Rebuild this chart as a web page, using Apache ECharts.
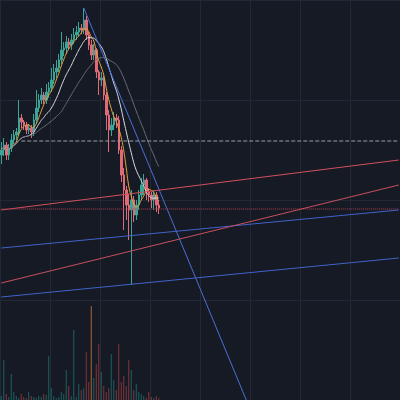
<!DOCTYPE html>
<html>
<head>
<meta charset="utf-8">
<script src="https://cdn.jsdelivr.net/npm/echarts@6/dist/echarts.min.js"></script>
<style>
  html, body { margin: 0; padding: 0; background: #161a25; }
  #chart { width: 400px; height: 400px; }
</style>
</head>
<body>
<div id="chart"></div>
<script>
// candle data (price units match the chart's vertical scale)
const closes = [250,255,245,252,260,265,268,282,278,275,270,272,268,280,292,300,305,300,308,312,320,328,332,340,350,352,358,355,360,365,368,372,370,380,365,355,345,350,328,320,322,305,285,270,275,282,280,250,225,210,195,190,200,185,195,205,215,220,208,205,200,205,195,192];
const opens  = [245,250,255,245,252,260,265,268,282,278,275,270,272,268,280,292,300,305,300,308,312,320,328,332,340,350,352,358,355,360,365,368,372,370,380,365,355,345,350,328,320,322,305,285,270,275,282,280,250,225,210,195,190,200,185,195,205,215,220,208,205,200,205,195];
const highs  = [258,262,258,256,266,270,272,300,286,280,278,276,275,286,310,306,312,308,316,318,332,336,340,346,368,358,364,362,366,372,374,378,376,392,384,368,360,356,352,330,328,324,308,290,282,288,286,284,254,232,214,206,210,204,200,210,222,226,222,212,208,210,208,200];
const lows   = [236,244,240,240,248,256,260,264,272,270,266,266,262,264,276,288,296,296,296,302,308,316,322,328,336,344,346,350,350,356,360,364,366,366,360,350,340,340,322,305,314,300,270,248,264,270,272,246,218,170,180,160,115,178,180,190,200,205,200,198,192,190,188,186];
const volumes = [4,40,6,3,26,8,4,2,6,3,2,8,4,3,2,4,3,6,5,44,12,4,2,3,8,6,30,14,4,70,3,16,10,12,48,18,94,22,36,56,28,14,8,12,46,20,10,56,18,24,14,40,30,10,16,8,6,4,2,8,3,2,4,2];

// trendlines: [startIndex, startValue, endIndex, endValue]
const trendLines = [
  { pts: [[33, 392], [98, 0]], color: '#4a6fd8', type: 'solid' },
  { pts: [[0, 190], [159, 240]], color: '#d0505c', type: 'solid' },
  { pts: [[0, 191], [159, 191]], color: '#b04050', type: 'dotted' },
  { pts: [[0, 152], [159, 190]], color: '#3f63c8', type: 'solid' },
  { pts: [[0, 117], [159, 215]], color: '#c8505c', type: 'solid' },
  { pts: [[0, 103], [159, 142]], color: '#3f63c8', type: 'solid' },
  { pts: [[8, 259], [159, 259]], color: '#9a9ea8', type: 'dashed' }
];

const categories = [];
for (let i = 0; i < 160; i++) categories.push(String(i));

function movingAverage(n) {
  return closes.map((_, i) => {
    const from = Math.max(0, i - n + 1);
    const slice = closes.slice(from, i + 1);
    return +(slice.reduce((a, b) => a + b, 0) / slice.length).toFixed(1);
  });
}

const candleData = closes.map((c, i) => [opens[i], c, lows[i], highs[i]]);
const volData = volumes.map((v, i) => ({
  value: v,
  itemStyle: { color: i === 36 ? 'rgba(230,140,60,0.7)' : (closes[i] >= opens[i] ? 'rgba(38,166,154,0.5)' : 'rgba(239,83,80,0.5)') }
}));

const chart = echarts.init(document.getElementById('chart'));
const series = [
  {
    type: 'candlestick',
    data: candleData,
    barWidth: 2,
    itemStyle: {
      color: '#3aa597', color0: '#e06a78',
      borderColor: '#3aa597', borderColor0: '#e06a78', borderWidth: 1
    }
  },
  { type: 'bar', yAxisIndex: 1, data: volData, barWidth: 1 },
  { type: 'line', data: movingAverage(5), symbol: 'none', smooth: true, lineStyle: { color: '#e8a33a', width: 1 } },
  { type: 'line', data: movingAverage(12), symbol: 'none', smooth: true, lineStyle: { color: '#d8dce6', width: 1 } },
  { type: 'line', data: movingAverage(25), symbol: 'none', smooth: true, lineStyle: { color: '#6a6e78', width: 1 } }
];
trendLines.forEach(t => series.push({
  type: 'line', data: t.pts, symbol: 'none', silent: true,
  lineStyle: { color: t.color, width: 1, type: t.type }
}));

chart.setOption({
  backgroundColor: '#161a25',
  animation: false,
  grid: { left: 0, right: 0, top: 0, bottom: 0 },
  xAxis: {
    type: 'category', data: categories, boundaryGap: true,
    axisLine: { show: false }, axisTick: { show: false }, axisLabel: { show: false },
    splitLine: { show: true, interval: 19, lineStyle: { color: '#232836', width: 1 } }
  },
  yAxis: [
    {
      type: 'value', min: 0, max: 400, interval: 100,
      axisLine: { show: false }, axisTick: { show: false }, axisLabel: { show: false },
      splitLine: { lineStyle: { color: '#232836', width: 1 } }
    },
    {
      type: 'value', min: 0, max: 400, show: false, splitLine: { show: false }
    }
  ],
  series: series
});
</script>
</body>
</html>
